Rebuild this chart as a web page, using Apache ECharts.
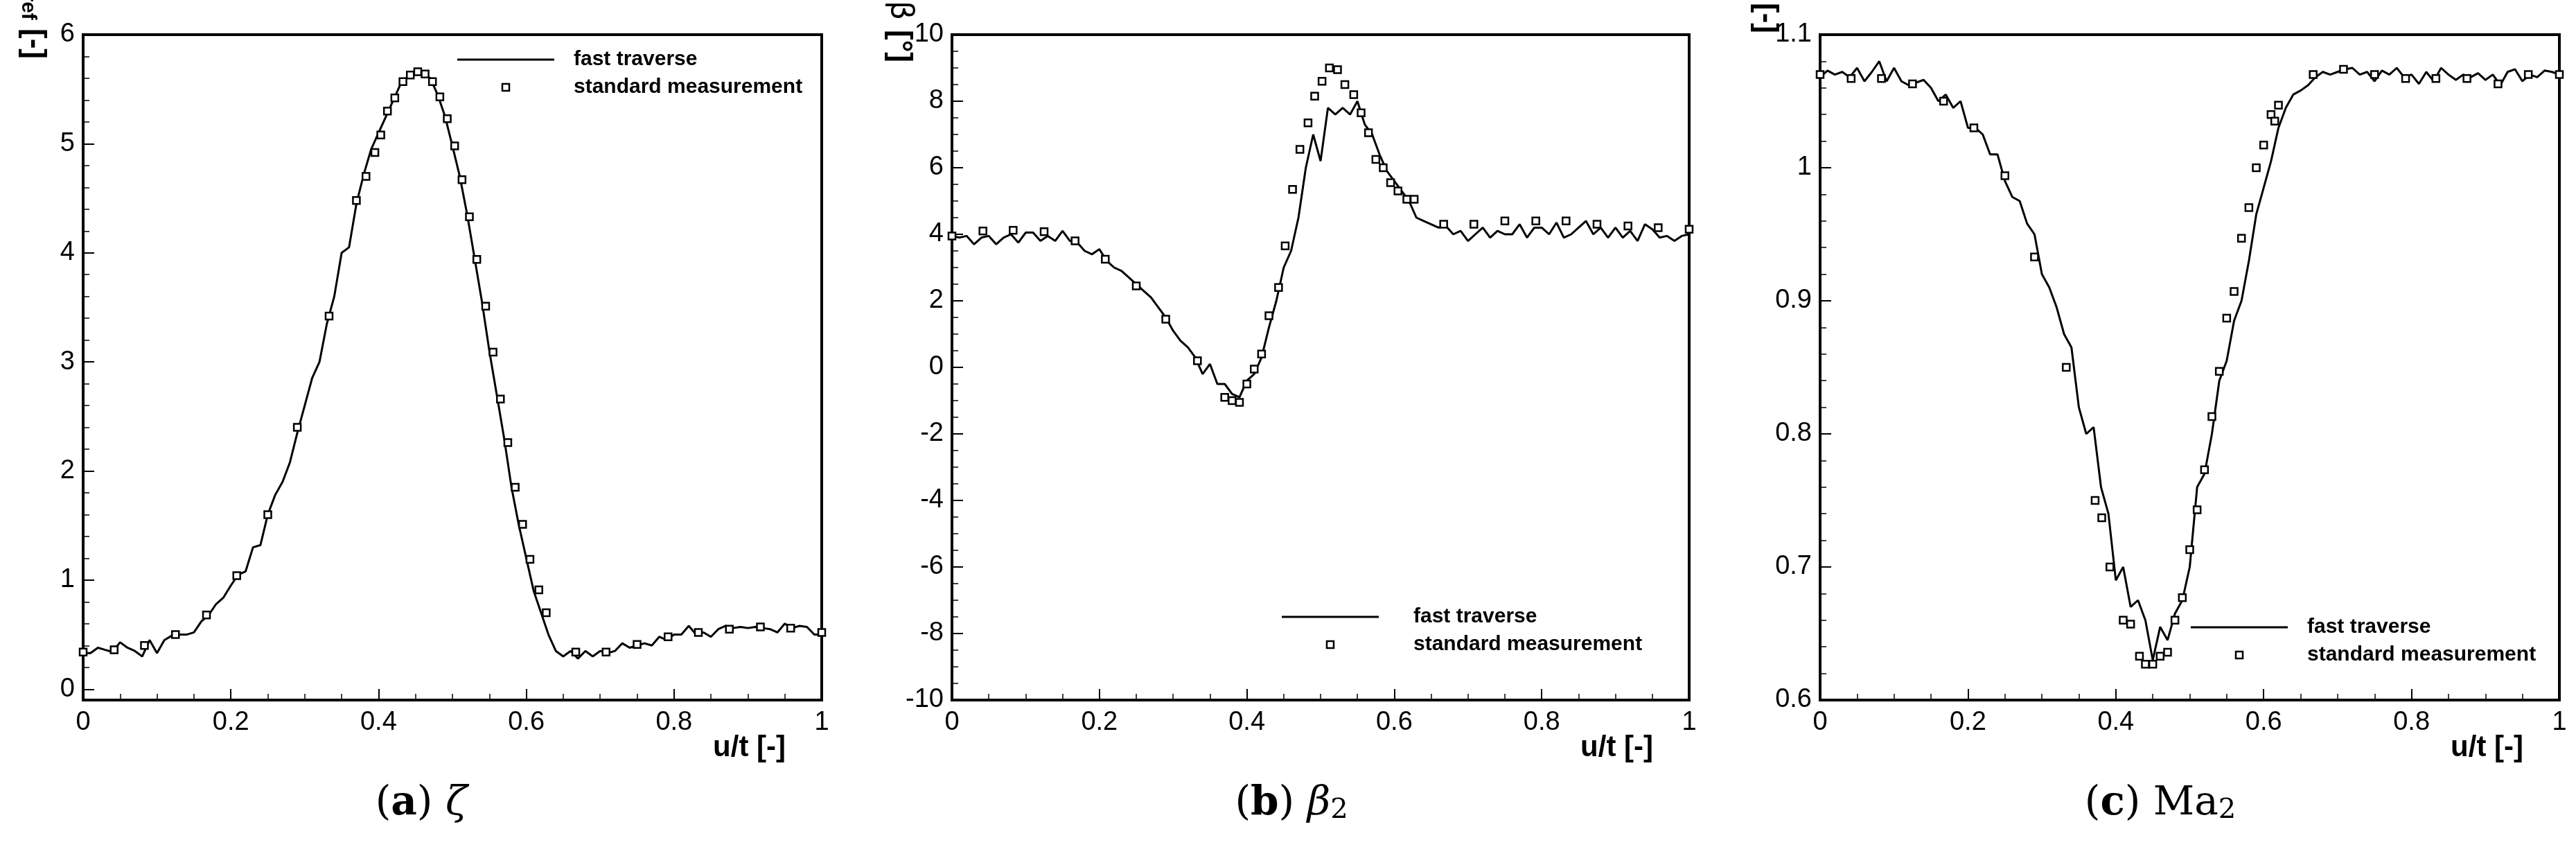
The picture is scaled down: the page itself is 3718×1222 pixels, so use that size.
<!DOCTYPE html>
<html>
<head>
<meta charset="utf-8">
<script src="https://cdn.jsdelivr.net/npm/echarts@6/dist/echarts.min.js"></script>
<style>
  html, body { margin: 0; padding: 0; background: #fff; }
  #chart { width: 3718px; height: 1222px; }
</style>
</head>
<body>
<div id="chart"></div>
<script>
// sample positions of the fast traverse (u/t)
var uPos = [0, 0.01, 0.02, 0.03, 0.04, 0.05, 0.06, 0.07, 0.08, 0.09,
  0.10, 0.11, 0.12, 0.13, 0.14, 0.15, 0.16, 0.17, 0.18, 0.19,
  0.20, 0.21, 0.22, 0.23, 0.24, 0.25, 0.26, 0.27, 0.28, 0.29,
  0.30, 0.31, 0.32, 0.33, 0.34, 0.35, 0.36, 0.37, 0.38, 0.39,
  0.40, 0.41, 0.42, 0.43, 0.44, 0.45, 0.46, 0.47, 0.48, 0.49,
  0.50, 0.51, 0.52, 0.53, 0.54, 0.55, 0.56, 0.57, 0.58, 0.59,
  0.60, 0.61, 0.62, 0.63, 0.64, 0.65, 0.66, 0.67, 0.68, 0.69,
  0.70, 0.71, 0.72, 0.73, 0.74, 0.75, 0.76, 0.77, 0.78, 0.79,
  0.80, 0.81, 0.82, 0.83, 0.84, 0.85, 0.86, 0.87, 0.88, 0.89,
  0.90, 0.91, 0.92, 0.93, 0.94, 0.95, 0.96, 0.97, 0.98, 0.99, 1.0]

// (a) zeta
var zetaFast = [0.33, 0.33, 0.38, 0.36, 0.34, 0.43, 0.38, 0.35, 0.3, 0.45,
  0.33, 0.45, 0.49, 0.5, 0.5, 0.52, 0.62, 0.68, 0.78, 0.84,
  0.95, 1.05, 1.08, 1.3, 1.32, 1.6, 1.78, 1.9, 2.08, 2.35,
  2.6, 2.85, 3.0, 3.35, 3.6, 4.0, 4.05, 4.45, 4.72, 4.95,
  5.1, 5.25, 5.4, 5.55, 5.62, 5.66, 5.65, 5.6, 5.45, 5.25,
  4.98, 4.7, 4.35, 3.95, 3.55, 3.1, 2.7, 2.3, 1.85, 1.5,
  1.2, 0.9, 0.7, 0.5, 0.35, 0.3, 0.35, 0.28, 0.35, 0.3,
  0.35, 0.33, 0.35, 0.42, 0.38, 0.4, 0.42, 0.4, 0.48, 0.45,
  0.5, 0.5, 0.58, 0.5, 0.52, 0.48, 0.55, 0.58, 0.56, 0.57,
  0.56, 0.57, 0.56, 0.55, 0.52, 0.6, 0.56, 0.58, 0.57, 0.5, 0.5]
var zetaStdU = [0, 0.042, 0.083, 0.125, 0.167, 0.208, 0.25, 0.29, 0.333, 0.37, 0.383, 0.395, 0.403, 0.412, 0.422, 0.433, 0.443, 0.453, 0.463, 0.473, 0.483, 0.493, 0.503, 0.513, 0.523, 0.533, 0.545, 0.555, 0.565, 0.575, 0.585, 0.595, 0.605, 0.617, 0.627, 0.667, 0.708, 0.75, 0.792, 0.833, 0.875, 0.917, 0.958, 1]
var zetaStd = [0.34, 0.36, 0.4, 0.5, 0.68, 1.04, 1.6, 2.4, 3.42, 4.48, 4.7, 4.92, 5.08, 5.3, 5.42, 5.57, 5.63, 5.66, 5.64, 5.57, 5.43, 5.23, 4.98, 4.67, 4.33, 3.94, 3.51, 3.09, 2.66, 2.26, 1.85, 1.51, 1.19, 0.91, 0.7, 0.34, 0.34, 0.41, 0.48, 0.52, 0.55, 0.57, 0.56, 0.52]
var zetaTicks = [0, 1, 2, 3, 4, 5, 6]
var zetaMinor = [0.2, 0.4, 0.6, 0.8, 1.2, 1.4, 1.6, 1.8, 2.2, 2.4, 2.6, 2.8, 3.2, 3.4, 3.6, 3.8, 4.2, 4.4, 4.6, 4.8, 5.2, 5.4, 5.6, 5.8]

// (b) delta beta
var betaFast = [3.95, 3.9, 3.95, 3.7, 3.9, 3.95, 3.7, 3.9, 4.0, 3.75,
  4.05, 4.05, 3.8, 3.95, 3.8, 4.1, 3.8, 3.75, 3.5, 3.4,
  3.55, 3.2, 3.0, 2.9, 2.7, 2.5, 2.3, 2.1, 1.8, 1.5,
  1.1, 0.8, 0.6, 0.3, -0.2, 0.1, -0.5, -0.5, -0.8, -0.9,
  -0.4, -0.2, 0.3, 1.2, 2.0, 3.0, 3.5, 4.5, 6.0, 7.0,
  6.2, 7.8, 7.6, 7.8, 7.6, 8.0, 7.3, 7.0, 6.4, 5.9,
  5.6, 5.3, 5.0, 4.5, 4.4, 4.3, 4.2, 4.25, 4.0, 4.1,
  3.8, 4.0, 4.2, 3.9, 4.1, 4.0, 4.0, 4.3, 3.9, 4.2,
  4.2, 4.0, 4.35, 3.9, 4.0, 4.2, 4.4, 4.0, 4.2, 3.9,
  4.2, 3.9, 4.1, 3.8, 4.3, 4.15, 3.9, 3.95, 3.8, 3.95, 4.0]
var betaStdU = [0, 0.042, 0.083, 0.125, 0.167, 0.208, 0.25, 0.29, 0.333, 0.37, 0.38, 0.39, 0.40, 0.41, 0.42, 0.43, 0.443, 0.452, 0.462, 0.472, 0.483, 0.492, 0.502, 0.512, 0.523, 0.533, 0.545, 0.555, 0.565, 0.575, 0.585, 0.595, 0.605, 0.617, 0.627, 0.667, 0.708, 0.75, 0.792, 0.833, 0.875, 0.917, 0.958, 1]
var betaStd = [3.95, 4.1, 4.12, 4.08, 3.8, 3.25, 2.45, 1.45, 0.2, -0.9, -1.0, -1.05, -0.5, -0.05, 0.4, 1.55, 2.4, 3.65, 5.35, 6.55, 7.35, 8.15, 8.6, 9.0, 8.95, 8.5, 8.2, 7.65, 7.05, 6.25, 6.0, 5.55, 5.3, 5.05, 5.05, 4.3, 4.3, 4.4, 4.4, 4.4, 4.3, 4.25, 4.2, 4.15]

// (c) Ma2
var maFast = [1.068, 1.073, 1.07, 1.072, 1.068, 1.075, 1.065, 1.072, 1.08, 1.065,
  1.075, 1.065, 1.062, 1.064, 1.066, 1.06, 1.05, 1.055, 1.045, 1.05,
  1.03, 1.03, 1.025, 1.01, 1.01, 0.99, 0.978, 0.975, 0.958, 0.95,
  0.92, 0.91, 0.895, 0.875, 0.865, 0.82, 0.8, 0.805, 0.76, 0.74,
  0.69, 0.7, 0.67, 0.675, 0.66, 0.63, 0.655, 0.645, 0.665, 0.675,
  0.7, 0.76, 0.77, 0.8, 0.84, 0.855, 0.885, 0.9, 0.93, 0.965,
  0.985, 1.005, 1.03, 1.045, 1.055, 1.058, 1.062, 1.068, 1.072, 1.07,
  1.072, 1.074, 1.075, 1.07, 1.072, 1.065, 1.073, 1.07, 1.075, 1.068,
  1.07, 1.063, 1.072, 1.065, 1.075, 1.07, 1.066, 1.07, 1.068, 1.071,
  1.066, 1.07, 1.062, 1.072, 1.074, 1.065, 1.07, 1.068, 1.073, 1.072, 1.07]
var maStdU = [0, 0.042, 0.083, 0.125, 0.167, 0.208, 0.25, 0.29, 0.333, 0.372, 0.381, 0.392, 0.41, 0.42, 0.432, 0.44, 0.45, 0.46, 0.47, 0.48, 0.49, 0.5, 0.51, 0.52, 0.53, 0.54, 0.55, 0.56, 0.57, 0.58, 0.59, 0.6, 0.61, 0.615, 0.62, 0.667, 0.708, 0.75, 0.792, 0.833, 0.875, 0.917, 0.958, 1]
var maStd = [1.07, 1.067, 1.067, 1.063, 1.05, 1.03, 0.994, 0.933, 0.85, 0.75, 0.737, 0.7, 0.66, 0.657, 0.633, 0.627, 0.627, 0.633, 0.636, 0.66, 0.677, 0.713, 0.743, 0.773, 0.813, 0.847, 0.887, 0.907, 0.947, 0.97, 1.0, 1.017, 1.04, 1.035, 1.047, 1.07, 1.074, 1.07, 1.067, 1.067, 1.067, 1.063, 1.07, 1.07]

function zip (xs, ys) {
  return xs.map(function (x, i) { return [x, ys[i]] })
}

var chart = echarts.init(document.getElementById('chart'))

var panels = [
  {left: 120, right: 1186, ymin: -0.1, ymax: 6, yint: 1, ysplit: 5, fast: zetaFast, stdU: zetaStdU, std: zetaStd},
  {left: 1374, right: 2438, ymin: -10, ymax: 10, yint: 2, ysplit: 4, fast: betaFast, stdU: betaStdU, std: betaStd},
  {left: 2627, right: 3694, ymin: 0.6, ymax: 1.1, yint: 0.1, ysplit: 5, fast: maFast, stdU: maStdU, std: maStd}
]
var TOP = 50, BOTTOM = 1010
var labelFont = {color: '#000', fontSize: 38, fontFamily: 'Liberation Sans'}
var tickMajor = {inside: true, length: 16, lineStyle: {color: '#000', width: 2}}
var tickMinorStyle = {length: 9, lineStyle: {color: '#000', width: 1.5}}

var grids = [], xAxes = [], yAxes = [], series = [], graphics = []
panels.forEach(function (p, i) {
  grids.push({left: p.left, width: p.right - p.left, top: TOP, height: BOTTOM - TOP,
    show: true, borderColor: '#000', borderWidth: 4})
  xAxes.push({type: 'value', gridIndex: i, min: 0, max: 1, interval: 0.2,
    axisLine: {onZero: false, lineStyle: {color: '#000', width: 4}},
    axisTick: tickMajor,
    minorTick: Object.assign({show: true, splitNumber: 4}, tickMinorStyle),
    splitLine: {show: false},
    axisLabel: Object.assign({margin: 14, formatter: function (v) { return v === 0 || v === 1 ? String(v) : v.toFixed(1) }}, labelFont)
  })
  var y = {type: 'value', gridIndex: i, min: p.ymin, max: p.ymax,
    axisLine: {onZero: false, lineStyle: {color: '#000', width: 4}},
    splitLine: {show: false},
    axisLabel: Object.assign({margin: 12, formatter: function (v) {
      return i === 2 ? (Math.abs(v - 1) < 1e-9 ? '1' : v.toFixed(1)) : String(Math.round(v))
    }}, labelFont)
  }
  if (i === 0) {
    // zero is not at the axis start here, so place ticks explicitly
    y.axisTick = Object.assign({customValues: zetaTicks}, tickMajor)
    y.axisLabel.customValues = zetaTicks
  } else {
    y.interval = p.yint
    y.axisTick = tickMajor
    y.minorTick = Object.assign({show: true, splitNumber: p.ysplit}, tickMinorStyle)
  }
  yAxes.push(y)
  series.push({type: 'line', name: 'fast traverse', xAxisIndex: i, yAxisIndex: i,
    data: zip(uPos, p.fast), showSymbol: false, symbol: 'none',
    lineStyle: {color: '#000', width: 3}, animation: false, z: 2})
  series.push({type: 'scatter', name: 'standard measurement', xAxisIndex: i, yAxisIndex: i,
    data: zip(p.stdU, p.std), symbol: 'rect', symbolSize: 10,
    itemStyle: {color: '#fff', borderColor: '#000', borderWidth: 2.5, opacity: 1},
    animation: false, z: 3})
  graphics.push({type: 'text', right: 3718 - (p.right - 52), top: 1058,
    style: {text: 'u/t [-]', fill: '#000', font: 'bold 42px "Liberation Sans"'}})
})
// minor ticks of panel (a)
yAxes.push({type: 'value', gridIndex: 0, min: -0.1, max: 6, position: 'left',
  axisLine: {show: false}, splitLine: {show: false}, axisLabel: {show: false},
  axisTick: Object.assign({inside: true, customValues: zetaMinor}, tickMinorStyle)})

// y axis names
var yNames = [
  {x: 48, text: '{it|ζ/ζ}{sub|ref}{b| [-]}', top: 85},
  {x: 1298, text: '{n|Δ β }{b|[°]}', top: 90},
  {x: 2548, text: '{b|Ma}{sub|2}{b|/Ma}{sub|2ref}{b| [-]}', top: 48}
]
var nameRich = {
  it: {fontFamily: 'DejaVu Serif', fontStyle: 'italic', fontSize: 44, fill: '#000'},
  n: {fontFamily: 'DejaVu Sans', fontSize: 44, fill: '#000'},
  b: {fontFamily: 'Liberation Sans', fontWeight: 'bold', fontSize: 44, fill: '#000'},
  sub: {fontFamily: 'Liberation Sans', fontWeight: 'bold', fontSize: 30, fill: '#000', padding: [16, 0, 0, 0]}
}
yNames.forEach(function (n) {
  graphics.push({type: 'text', x: n.x, y: n.top, rotation: -Math.PI / 2, originX: 0, originY: 0,
    style: {text: n.text, rich: nameRich, fill: '#000', align: 'right', verticalAlign: 'middle'}})
})

// legends
var legends = [{x: 660, y: 86, tx: 828}, {x: 1850, y: 890, tx: 2040}, {x: 3162, y: 905, tx: 3330}]
legends.forEach(function (l) {
  graphics.push({type: 'line', shape: {x1: l.x, y1: l.y, x2: l.x + 140, y2: l.y}, style: {stroke: '#000', lineWidth: 3}})
  graphics.push({type: 'rect', shape: {x: l.x + 65, y: l.y + 35, width: 10, height: 10}, style: {fill: '#fff', stroke: '#000', lineWidth: 2.5}})
  graphics.push({type: 'text', x: l.tx, y: l.y, style: {text: 'fast traverse', fill: '#000', font: 'bold 30px "Liberation Sans"', verticalAlign: 'middle'}})
  graphics.push({type: 'text', x: l.tx, y: l.y + 40, style: {text: 'standard measurement', fill: '#000', font: 'bold 30px "Liberation Sans"', verticalAlign: 'middle'}})
})

// captions
var capRich = {
  p: {fontFamily: 'DejaVu Serif', fontSize: 58, fill: '#000'},
  bl: {fontFamily: 'DejaVu Serif', fontWeight: 'bold', fontSize: 58, fill: '#000'},
  it: {fontFamily: 'DejaVu Serif', fontStyle: 'italic', fontSize: 58, fill: '#000'},
  rm: {fontFamily: 'DejaVu Serif', fontSize: 58, fill: '#000'},
  subr: {fontFamily: 'DejaVu Serif', fontSize: 40, fill: '#000', padding: [20, 0, 0, 0]}
}
var captions = [
  {x: 608, text: '{p|(}{bl|a}{p|) }{it|ζ}'},
  {x: 1864, text: '{p|(}{bl|b}{p|) }{it|β}{subr|2}'},
  {x: 3118, text: '{p|(}{bl|c}{p|) }{rm|Ma}{subr|2}'}
]
captions.forEach(function (c) {
  graphics.push({type: 'text', x: c.x, y: 1160,
    style: {text: c.text, rich: capRich, align: 'center', verticalAlign: 'middle'}})
})

chart.setOption({
  animation: false,
  backgroundColor: '#fff',
  grid: grids,
  xAxis: xAxes,
  yAxis: yAxes,
  series: series,
  graphic: graphics
})
</script>
</body>
</html>
